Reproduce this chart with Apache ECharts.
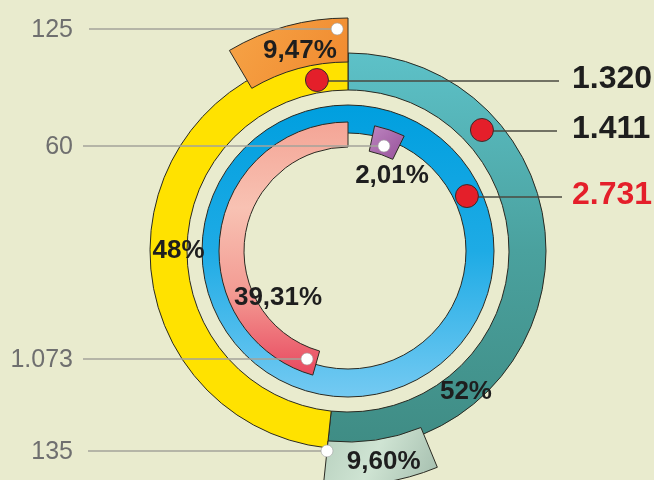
<!DOCTYPE html>
<html><head><meta charset="utf-8">
<script src="https://cdn.jsdelivr.net/npm/echarts@6/dist/echarts.min.js"></script>
<style>html,body{margin:0;padding:0;background:#e9ebce}#c{width:654px;height:480px}</style>
</head><body><div id="c"></div>
<script>
// ---------- data ----------
const outerNames = ['1.411', '1.320'];          // teal (clockwise from top), yellow
const outerValues = [1411, 1320];
const outerPctLabels = ['52%', '48%'];
const totalLabel = '2.731';
const subLabels = ['125', '60', '1.073', '135'];       // orange, purple, pink, grey
const subPctLabels = ['9,47%', '2,01%', '39,31%', '9,60%'];
// share of the full circle covered by each tab arc, as drawn
const tabArcShare = [8.5, 3.9, 45.6, 7.9];             // orange, purple, pink, grey

// ---------- layout ----------
const C = [348, 251];
const font = '"Liberation Sans", Arial, sans-serif';
const redDotPos = [[173.8, 349.7], [180.5, 47.9], [131, 65.2]];   // 1.320, 1.411, 2.731  [radius, angle]
const whiteDotPos = [[222.3, 357.2], [111, 18.9], [115.5, 200.8], [201, 186]];
const pctPos = [[205.7, 346.5], [87, 30.4], [84.3, 236.1], [214, 170.4], [183.9, 140.1], [169.5, 270]];
const G = (x1, y1, x2, y2, stops) => new echarts.graphic.LinearGradient(x1, y1, x2, y2,
  stops.map((c, i) => ({offset: i / (stops.length - 1), color: c})), true);
const border = {borderColor: '#2a2a22', borderWidth: 1};
const clear = {value: 0, itemStyle: {color: 'rgba(0,0,0,0)', borderWidth: 0}};

const chart = echarts.init(document.getElementById('c'), null, {renderer: 'canvas'});
const total = outerValues[0] + outerValues[1];
const boundaryAngle = 90 - 360 * outerValues[0] / total;

function tab(radius, start, cw, share, color, z) {
  return {
    type: 'pie', center: C, radius, startAngle: start, clockwise: cw, silent: true, z,
    label: {show: false}, labelLine: {show: false}, emphasis: {disabled: true},
    data: [{value: share, itemStyle: Object.assign({color}, border)},
           Object.assign({}, clear, {value: 100 - share})]
  };
}

const option = {
  backgroundColor: '#e9ebce',
  animation: false,
  polar: {center: C, radius: 250},
  radiusAxis: {type: 'value', min: 0, max: 250, show: false},
  angleAxis: {type: 'value', min: 0, max: 360, startAngle: 90, clockwise: true, show: false},
  series: [
    {
      type: 'pie', center: C, radius: [161, 198], startAngle: 90, clockwise: true, silent: true, z: 1,
      label: {show: false}, labelLine: {show: false}, emphasis: {disabled: true},
      data: [
        {name: outerNames[0], value: outerValues[0],
         itemStyle: Object.assign({color: G(348, 53, 348, 449, ['#5dc1c8', '#4aa19e', '#3f8c84'])}, border)},
        {name: outerNames[1], value: outerValues[1], itemStyle: Object.assign({color: '#ffe200'}, border)}
      ]
    },
    {
      type: 'pie', center: C, radius: [118, 146], startAngle: 90, silent: true, z: 1,
      label: {show: false}, labelLine: {show: false}, emphasis: {disabled: true},
      data: [{name: totalLabel, value: total,
        itemStyle: Object.assign({color: G(348, 105, 348, 397, ['#009fdf', '#1eabe5', '#74caf2'])}, border)}]
    },
    tab([104, 129], 90, false, tabArcShare[2], G(348, 122, 348, 380, ['#f4a596', '#f8c2b3', '#f39a92', '#e8435c']), 2),
    tab([102, 128], 78, true, tabArcShare[1], G(370, 125, 400, 158, ['#bd86c0', '#9a559d']), 3),
    tab([189, 233], 90, false, tabArcShare[0], G(230, 18, 346, 90, ['#f6a447', '#f0892e']), 2),
    tab([191, 234], boundaryAngle, false, tabArcShare[3], G(320, 430, 430, 480, ['#b6cfbd', '#cfe4d3', '#a9c2b2']), 2),
    {
      type: 'scatter', coordinateSystem: 'polar', z: 10, silent: true, symbol: 'circle', symbolSize: 23,
      itemStyle: {color: '#e41f2a', borderColor: '#3a2a2a', borderWidth: 1, opacity: 1},
      emphasis: {disabled: true},
      data: redDotPos
    },
    {
      type: 'scatter', coordinateSystem: 'polar', z: 10, silent: true, symbol: 'circle', symbolSize: 12,
      itemStyle: {color: '#ffffff', borderColor: '#a0a0a0', borderWidth: 0.6, opacity: 1},
      emphasis: {disabled: true},
      data: whiteDotPos
    },
    {
      type: 'scatter', coordinateSystem: 'polar', z: 11, silent: true, symbolSize: 0,
      itemStyle: {opacity: 1, color: 'rgba(0,0,0,0)'},
      emphasis: {disabled: true},
      label: {show: true, position: 'inside', fontFamily: font, fontWeight: 'bold', fontSize: 26,
        color: '#1e1e1e', opacity: 1, textBorderWidth: 0,
        formatter: p => p.data.text},
      data: pctPos.map((p, i) => ({value: p,
        text: i < 4 ? subPctLabels[i] : outerPctLabels[i - 4]}))
    }
  ]
};
chart.setOption(option);

const toPx = p => chart.convertToPixel({polarIndex: 0}, p);
const graphics = [];
const rightEnds = [559, 557, 562];
const rightTexts = [outerNames[1], outerNames[0], totalLabel];
const rightColors = ['#1e1e1e', '#1e1e1e', '#e41f2a'];
redDotPos.forEach((p, i) => {
  const [x, y] = toPx(p);
  graphics.push({type: 'line', z: 5, silent: true,
    shape: {x1: x, y1: y + 1, x2: rightEnds[i], y2: y + 1}, style: {stroke: '#4a4a40', lineWidth: 1.5}});
  graphics.push({type: 'text', z: 5, silent: true, x: 572, y: y - 1,
    style: {text: rightTexts[i], font: 'bold 32px ' + font, fill: rightColors[i], align: 'left', verticalAlign: 'middle'}});
});
const leftStarts = [89, 83, 83, 88];
whiteDotPos.forEach((p, i) => {
  const [x, y] = toPx(p);
  graphics.push({type: 'line', z: 5, silent: true,
    shape: {x1: leftStarts[i], y1: y, x2: x, y2: y}, style: {stroke: '#a3a39a', lineWidth: 1.5}});
  graphics.push({type: 'text', z: 5, silent: true, x: 73, y: y + 1,
    style: {text: subLabels[i], font: '25px ' + font, fill: '#6f6f6f', align: 'right', verticalAlign: 'middle'}});
});
chart.setOption({graphic: graphics});
</script></body></html>
